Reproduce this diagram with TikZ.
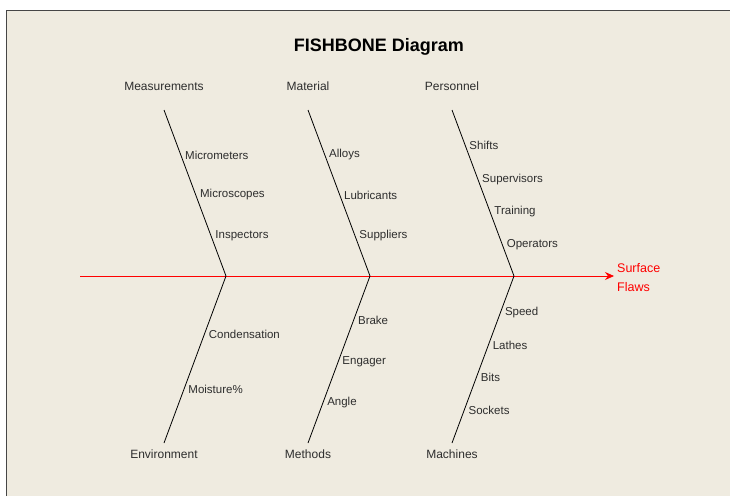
\documentclass[tikz,border=0pt]{standalone}
\usepackage{fontspec}
\setmainfont{Liberation Sans}
\usetikzlibrary{arrows.meta}
\definecolor{paper}{RGB}{239,235,224}
\definecolor{frame}{RGB}{70,70,70}
\definecolor{flaw}{RGB}{255,0,0}
\definecolor{ink}{RGB}{45,45,45}
\tikzstyle{title} = [font=\fontsize{18}{20}\selectfont\bfseries, text=black]
\tikzstyle{category} = [font=\fontsize{12}{14}\selectfont, text=ink]
\tikzstyle{cause} = [anchor=west, inner sep=2pt, xshift=2pt, font=\fontsize{11.5}{13}\selectfont, text=ink]
\tikzstyle{effect} = [anchor=west, inner sep=3pt, align=left, font=\fontsize{12.5}{19}\selectfont, text=flaw]
\tikzstyle{bone} = [draw=black, line width=0.8pt]
\tikzstyle{spine} = [draw=flaw, line width=0.8pt, -{Stealth[length=9pt, width=8pt, inset=3pt]}]

\begin{document}
\begin{tikzpicture}[x=1pt, y=-1pt]
\useasboundingbox (0,0) rectangle (730,496);
\fill[white] (0,0) rectangle (730,496);
\fill[paper] (6,10) rectangle (730,496);
\draw[frame, line width=1.5pt] (6.5,496) -- (6.5,10.5) -- (730,10.5);

\node (title) [title] at (379,47) {FISHBONE Diagram};

\coordinate (tail) at (80,276);
\node (flaws) [effect] at (614,278) {Surface\\Flaws};
\draw [spine] (tail) -- (flaws.west |- tail);

\coordinate (j1) at (226,276);
\coordinate (j2) at (370,276);
\coordinate (j3) at (514,276);

\node (meas) [category] at (164,86) {Measurements};
\node (mat) [category] at (308,86) {Material};
\node (pers) [category] at (452,86) {Personnel};
\node (env) [category] at (164,454) {Environment};
\node (meth) [category] at (308,454) {Methods};
\node (mach) [category] at (452,454) {Machines};

\coordinate (meas-end) at (164,110);
\coordinate (mat-end) at (308,110);
\coordinate (pers-end) at (452,110);
\coordinate (env-end) at (164,443);
\coordinate (meth-end) at (308,443);
\coordinate (mach-end) at (452,443);

\draw [bone] (meas-end) -- (j1)
  node[cause, pos=0.271] (micrometers) {Micrometers}
  node[cause, pos=0.512] (microscopes) {Microscopes}
  node[cause, pos=0.759] (inspectors) {Inspectors};
\draw [bone] (mat-end) -- (j2)
  node[cause, pos=0.271] (alloys) {Alloys}
  node[cause, pos=0.512] (lubricants) {Lubricants}
  node[cause, pos=0.759] (suppliers) {Suppliers};
\draw [bone] (pers-end) -- (j3)
  node[cause, pos=0.211] (shifts) {Shifts}
  node[cause, pos=0.416] (supervisors) {Supervisors}
  node[cause, pos=0.614] (training) {Training}
  node[cause, pos=0.813] (operators) {Operators};

\draw [bone] (j1) -- (env-end)
  node[cause, pos=0.347] (condensation) {Condensation}
  node[cause, pos=0.677] (moisture) {Moisture\%};
\draw [bone] (j2) -- (meth-end)
  node[cause, pos=0.263] (brake) {Brake}
  node[cause, pos=0.515] (engager) {Engager}
  node[cause, pos=0.760] (angle) {Angle};
\draw [bone] (j3) -- (mach-end)
  node[cause, pos=0.216] (speed) {Speed}
  node[cause, pos=0.413] (lathes) {Lathes}
  node[cause, pos=0.605] (bits) {Bits}
  node[cause, pos=0.802] (sockets) {Sockets};

\end{tikzpicture}
\end{document}
